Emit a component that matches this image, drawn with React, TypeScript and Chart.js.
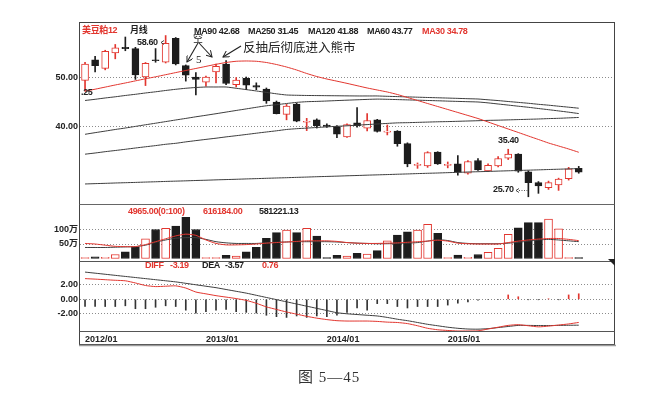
import React, { useEffect, useRef } from "react";
import { Chart, registerables } from "chart.js";

Chart.register(...registerables);

const months = [
  "2012/01", "2012/02", "2012/03", "2012/04", "2012/05", "2012/06", "2012/07", "2012/08", "2012/09", "2012/10", "2012/11", "2012/12",
  "2013/01", "2013/02", "2013/03", "2013/04", "2013/05", "2013/06", "2013/07", "2013/08", "2013/09", "2013/10", "2013/11", "2013/12",
  "2014/01", "2014/02", "2014/03", "2014/04", "2014/05", "2014/06", "2014/07", "2014/08", "2014/09", "2014/10", "2014/11", "2014/12",
  "2015/01", "2015/02", "2015/03", "2015/04", "2015/05", "2015/06", "2015/07", "2015/08", "2015/09", "2015/10", "2015/11", "2015/12",
  "2016/01", "2016/02", "2016/03", "2016/04", "2016/05",
];
const xTickIdx = [0, 12, 24, 36];

const openP = [
  49.44, 53.64, 51.89, 55.03, 56.22, 55.94, 50.14, 53.6, 53.15, 58.04,
  52.45, 50.14, 49.09, 51.19, 52.8, 48.6, 49.86, 48.39, 47.69, 45.03,
  42.52, 44.62, 40.9, 41.4, 40.35, 40.0, 37.9, 40.8, 39.72, 41.4,
  38.9, 39.1, 36.55, 32.1, 32.0, 34.8, 32.1, 32.4, 30.5, 33.1,
  31.0, 32.0, 33.6, 34.4, 30.8, 28.6, 27.55, 28.1, 29.4, 31.5,
];
const highP = [
  53.15, 54.34, 55.6, 56.78, 58.3, 56.2, 53.1, 55.94, 58.6, 58.2,
  52.6, 51.05, 50.35, 52.8, 53.5, 50.0, 50.14, 48.95, 47.9, 45.24,
  44.55, 44.8, 41.7, 41.6, 40.56, 40.21, 40.56, 43.92, 42.66, 41.5,
  40.35, 39.2, 36.71, 32.6, 34.9, 34.9, 32.8, 34.1, 33.1, 33.5,
  32.4, 33.9, 35.4, 34.5, 31.0, 28.8, 28.9, 29.5, 31.7, 31.9,
];
const lowP = [
  47.25, 51.19, 51.6, 53.85, 55.5, 49.65, 48.39, 53.15, 53.0, 52.6,
  49.3, 46.5, 48.25, 48.95, 48.6, 48.11, 47.55, 47.55, 44.76, 42.6,
  41.4, 41.0, 39.2, 39.72, 39.86, 37.76, 37.8, 39.9, 39.16, 38.9,
  38.32, 36.01, 31.82, 31.5, 31.7, 32.3, 31.6, 30.1, 30.3, 31.1,
  30.8, 31.8, 33.3, 30.7, 25.7, 26.4, 27.2, 27.0, 29.1, 30.5,
];
const closeP = [
  52.8, 52.45, 55.38, 56.08, 55.94, 50.56, 52.94, 53.45, 56.99, 52.8,
  50.49, 49.65, 50.14, 52.31, 48.81, 49.51, 48.46, 48.04, 45.24, 42.66,
  44.2, 41.12, 41.05, 40.21, 40.07, 38.46, 40.42, 40.2, 41.26, 39.02,
  39.02, 36.55, 32.4, 32.25, 34.7, 32.4, 32.2, 30.7, 32.9, 31.2,
  32.1, 33.5, 34.4, 30.9, 28.6, 27.9, 28.6, 29.3, 31.4, 30.7,
];

const ma30 = [
  47.24, 47.65, 48.08, 48.51, 48.92, 49.35, 49.78, 50.18, 50.61, 51.04,
  51.47, 51.88, 52.31, 52.73, 53.1, 53.35, 53.41, 53.35, 53.1, 52.69,
  52.18, 51.57, 50.86, 50.24, 49.73, 49.29, 48.84, 48.37, 47.9, 47.49,
  47.08, 46.57, 45.96, 45.35, 44.73, 44.12, 43.51, 42.9, 42.29, 41.67,
  40.96, 40.24, 39.53, 38.82, 38.1, 37.39, 36.67, 36.06, 35.45, 34.78,
];
const ma60 = [
  45.35, 45.59, 45.86, 46.1, 46.37, 46.61, 46.88, 47.12, 47.39, 47.63,
  47.84, 48.0, 48.1, 48.1, 48.1, 47.84, 47.57, 47.29, 47.0, 46.71,
  46.47, 46.41, 46.37, 46.35, 46.33, 46.31, 46.29, 46.27, 46.27, 46.27,
  46.2, 46.14, 46.08, 46.02, 45.96, 45.9, 45.84, 45.78, 45.71, 45.65,
  45.49, 45.33, 45.14, 44.96, 44.78, 44.57, 44.39, 44.18, 43.98, 43.77,
];
const ma90 = [
  38.45, 38.78, 39.1, 39.43, 39.73, 40.06, 40.39, 40.71, 41.04, 41.37,
  41.69, 42.02, 42.33, 42.65, 42.98, 43.31, 43.63, 43.96, 44.27, 44.49,
  44.73, 44.96, 45.1, 45.16, 45.24, 45.33, 45.41, 45.49, 45.57, 45.63,
  45.59, 45.53, 45.47, 45.41, 45.35, 45.29, 45.22, 45.16, 45.1, 45.04,
  44.86, 44.63, 44.41, 44.18, 43.96, 43.71, 43.47, 43.22, 42.96, 42.68,
];
const ma120 = [
  34.39, 34.63, 34.9, 35.14, 35.39, 35.65, 35.9, 36.14, 36.41, 36.61,
  36.9, 37.16, 37.41, 37.65, 37.92, 38.16, 38.41, 38.67, 38.92, 39.16,
  39.43, 39.59, 39.71, 39.84, 39.96, 40.08, 40.18, 40.31, 40.43, 40.55,
  40.67, 40.78, 40.82, 40.88, 40.94, 41.0, 41.04, 41.1, 41.16, 41.22,
  41.29, 41.33, 41.39, 41.45, 41.51, 41.57, 41.65, 41.71, 41.8, 41.88,
];
const ma250 = [
  28.31, 28.38, 28.44, 28.51, 28.57, 28.63, 28.7, 28.76, 28.83, 28.89,
  28.95, 29.02, 29.08, 29.15, 29.21, 29.27, 29.34, 29.4, 29.47, 29.53,
  29.59, 29.66, 29.72, 29.79, 29.85, 29.91, 29.98, 30.04, 30.11, 30.17,
  30.23, 30.3, 30.36, 30.43, 30.49, 30.55, 30.62, 30.68, 30.75, 30.81,
  30.87, 30.94, 31.0, 31.07, 31.13, 31.19, 31.26, 31.32, 31.39, 31.45,
];

// volume in 万
const volume = [
  2, 6, 4, 14, 23, 38.5, 68, 100, 104, 112,
  142, 100, 2, 3, 11, 8.6, 23, 38.5, 69.5, 89,
  98, 89, 104, 77.6, 1, 11, 8.6, 18, 15.5, 27,
  61, 81, 92, 98, 118, 87, 1, 12, 4, 14,
  21, 35, 83, 106, 124, 124, 136, 102, 1, 0.5,
];
const volMaRed = [
  52, 50, 46, 42, 41, 41, 48, 58, 68, 78,
  84, 80, 64, 52, 47, 47, 48, 50, 53, 55,
  57, 59, 61, 61, 61, 59, 55, 53, 52, 52,
  53, 54, 56, 58, 60, 63, 60, 53, 51, 50,
  50, 50, 55, 60, 64, 67, 69, 69, 66, 61.6,
];
const volMaBlack = [
  38, 38, 38, 39, 40, 41, 46, 56, 64, 70,
  72, 72, 66, 58, 54, 52, 52, 52, 54, 56,
  57, 58, 58, 58, 58, 57, 55, 53, 52, 51,
  51, 52, 53, 55, 60, 65, 62, 55, 52, 51,
  51, 51, 53, 56, 60, 64, 66, 64, 61, 58.1,
];

const diff = [
  2.85, 2.78, 2.7, 2.62, 2.55, 2.25, 1.9, 1.75, 1.8, 1.85,
  1.55, 1.0, 0.75, 0.5, 0.3, 0.1, -0.15, -0.55, -1.05, -1.4,
  -1.75, -2.05, -2.35, -2.6, -2.8, -2.95, -3.0, -3.0, -3.0, -3.05,
  -3.15, -3.2, -3.35, -3.65, -4.0, -4.2, -4.3, -4.37, -4.37, -4.35,
  -4.1, -3.85, -3.6, -3.5, -3.65, -3.8, -3.7, -3.55, -3.4, -3.19,
];
const dea = [
  3.75, 3.6, 3.45, 3.3, 3.15, 3.0, 2.85, 2.7, 2.55, 2.4,
  2.2, 2.0, 1.8, 1.6, 1.35, 1.1, 0.85, 0.55, 0.25, -0.05,
  -0.35, -0.65, -0.95, -1.25, -1.55, -1.85, -2.0, -2.1, -2.2, -2.3,
  -2.5, -2.75, -2.95, -3.2, -3.45, -3.65, -3.85, -4.0, -4.1, -4.12,
  -4.05, -3.9, -3.75, -3.6, -3.6, -3.62, -3.62, -3.6, -3.58, -3.57,
];
const macdHist = [
  -1.0, -1.0, -1.0, -1.0, -0.9, -1.3, -1.3, -1.1, -0.9, -1.0,
  -1.5, -1.9, -1.7, -1.5, -1.4, -1.7, -1.8, -1.9, -2.2, -2.4,
  -2.5, -2.3, -2.5, -2.3, -2.4, -2.2, -1.8, -1.2, -1.5, -0.6,
  -0.6, -1.0, -1.2, -1.0, -1.0, -1.0, -0.8, -0.55, -0.35, -0.12,
  -0.06, -0.06, 0.6, 0.35, -0.06, -0.05, 0.05, -0.05, 0.6, 0.76,
];

const priceTicks = [50, 40];
const volTicks = [100, 50];
const macdTicks = [2, 0, -2];

const RED = "#e2362f";
const DARK = "#1d1d1d";
const LINE = "#3d3d3d";
const GRID = "#8c8c8c";
const SMALLF = "'Liberation Sans', 'Noto Sans CJK SC', sans-serif";
const tickFont = { family: SMALLF, size: 9, weight: "bold" };

function noPad(s: any) {
  s.paddingTop = 0;
  s.paddingBottom = 0;
  s.paddingLeft = 0;
  s.paddingRight = 0;
}

function fixedY(min: number, max: number, ticks: number[], fmt: (v: number) => string) {
  return {
    min,
    max,
    afterFit: (s: any) => {
      s.width = 80;
      noPad(s);
    },
    afterBuildTicks: (s: any) => {
      s.ticks = ticks.map((v) => ({ value: v }));
    },
    ticks: {
      callback: (v: any) => fmt(Number(v)),
      font: tickFont,
      color: "#222",
      padding: 2,
      autoSkip: false,
    },
    grid: { drawTicks: false, color: GRID, lineWidth: 1 },
    border: { display: false, dash: [1, 2] },
  };
}

function lineDs(data: number[], color: string) {
  return {
    type: "line",
    data,
    borderColor: color,
    borderWidth: 1,
    pointRadius: 0,
    tension: 0.2,
    fill: false,
  };
}

function Txt(props: {
  x: number;
  y: number;
  t: string;
  c?: string;
  s?: number;
  w?: number;
  f?: string;
  ls?: string;
}) {
  const s = props.s || 9;
  return (
    <div
      style={{
        position: "absolute",
        left: props.x,
        top: props.y - s * 0.62,
        fontSize: s,
        lineHeight: `${Math.round(s * 1.24)}px`,
        color: props.c || "#222",
        whiteSpace: "nowrap",
        fontFamily: props.f || SMALLF,
        fontWeight: props.w === undefined ? 700 : props.w,
        letterSpacing: props.ls === undefined ? "-0.35px" : props.ls,
      }}
    >
      {props.t}
    </div>
  );
}

export default function App() {
  const mainRef = useRef<HTMLCanvasElement>(null);
  const volRef = useRef<HTMLCanvasElement>(null);
  const macdRef = useRef<HTMLCanvasElement>(null);

  useEffect(() => {
    const up = openP.map((o, i) => closeP[i] >= o);
    const bodyBg = up.map((u) => (u ? "#ffffff" : DARK));
    const candleCol = up.map((u) => (u ? RED : DARK));
    const bodies = openP.map((o, i) => [Math.min(o, closeP[i]), Math.max(o, closeP[i])]);
    const wicks = lowP.map((l, i) => [l, highP[i]]);
    const histCol = macdHist.map((v) => (v >= 0 ? RED : "#333333"));

    const base: any = {
      responsive: false,
      animation: false,
      events: [],
      plugins: { legend: { display: false }, tooltip: { enabled: false } },
    };
    const xHidden: any = {
      type: "category",
      offset: true,
      display: false,
      grid: { display: false },
    };

    const main = new Chart(mainRef.current as HTMLCanvasElement, {
      type: "bar",
      data: {
        labels: months,
        datasets: [
          lineDs(ma30, RED),
          lineDs(ma60, LINE),
          lineDs(ma90, LINE),
          lineDs(ma120, LINE),
          lineDs(ma250, LINE),
          {
            type: "bar",
            data: bodies,
            backgroundColor: bodyBg,
            borderColor: candleCol,
            borderWidth: 1,
            borderSkipped: false,
            barThickness: 7,
            grouped: false,
            minBarLength: 1,
          },
          {
            type: "bar",
            data: wicks,
            backgroundColor: candleCol,
            borderWidth: 0,
            barThickness: 1,
            grouped: false,
          },
        ] as any,
      },
      options: {
        ...base,
        layout: { padding: { top: 23, right: 47, left: 0, bottom: 0 } },
        scales: {
          x: xHidden,
          y: fixedY(24.02, 61.16, priceTicks, (v) => v.toFixed(2)),
        },
      },
    });

    const vol = new Chart(volRef.current as HTMLCanvasElement, {
      type: "bar",
      data: {
        labels: months,
        datasets: [
          lineDs(volMaRed, RED),
          lineDs(volMaBlack, LINE),
          {
            type: "bar",
            data: volume,
            backgroundColor: bodyBg,
            borderColor: candleCol,
            borderWidth: 1,
            borderSkipped: false,
            barThickness: 8,
            grouped: false,
            minBarLength: 1,
          },
        ] as any,
      },
      options: {
        ...base,
        layout: { padding: { top: 0, right: 47, left: 0, bottom: 0 } },
        scales: {
          x: xHidden,
          y: fixedY(-12, 184.5, volTicks, (v) => `${v}万`),
        },
      },
    });

    const macd = new Chart(macdRef.current as HTMLCanvasElement, {
      type: "bar",
      data: {
        labels: months,
        datasets: [
          lineDs(diff, RED),
          lineDs(dea, LINE),
          {
            type: "bar",
            data: macdHist,
            backgroundColor: histCol,
            borderWidth: 0,
            barThickness: 1,
            grouped: false,
          },
        ] as any,
      },
      options: {
        ...base,
        layout: { padding: { top: 0, right: 47, left: 0, bottom: 0 } },
        scales: {
          x: {
            type: "category",
            offset: true,
            grid: { display: false, drawTicks: false },
            border: { display: false },
            afterFit: (s: any) => {
              s.height = 13;
              noPad(s);
            },
            ticks: {
              autoSkip: false,
              maxRotation: 0,
              minRotation: 0,
              align: "start",
              padding: 2,
              font: tickFont,
              color: "#222",
              callback: (_v: any, i: number) => (xTickIdx.includes(i) ? months[i] : ""),
            },
          },
          y: fixedY(-4.51, 5.14, macdTicks, (v) => v.toFixed(2)),
        },
      } as any,
    });

    return () => {
      main.destroy();
      vol.destroy();
      macd.destroy();
    };
  }, []);

  return (
    <div
      style={{
        position: "absolute",
        left: 0,
        top: 0,
        width: 661,
        height: 402,
        background: "#ffffff",
        overflow: "hidden",
      }}
    >
      <canvas ref={mainRef} width={661} height={205} style={{ position: "absolute", left: 0, top: 0, width: 661, height: 205 }} />
      <canvas ref={volRef} width={661} height={57} style={{ position: "absolute", left: 0, top: 205, width: 661, height: 57 }} />
      <canvas ref={macdRef} width={661} height={83} style={{ position: "absolute", left: 0, top: 262, width: 661, height: 83 }} />

      <svg width={661} height={402} style={{ position: "absolute", left: 0, top: 0, pointerEvents: "none" }}>
        <defs>
          <marker id="ah" markerWidth="7" markerHeight="7" refX="6" refY="3.5" orient="auto" markerUnits="userSpaceOnUse">
            <path d="M0,0 L6,3.5 L0,7" fill="none" stroke="#222" strokeWidth="1" />
          </marker>
        </defs>
        <rect x={79.5} y={22.5} width={535} height={322} fill="none" stroke="#444" strokeWidth={1} />
        <line x1={79} y1={345.5} x2={616} y2={345.5} stroke="#9a9a9a" strokeWidth={1.5} />
        <line x1={79.5} y1={204.5} x2={614.5} y2={204.5} stroke="#666" strokeWidth={1.2} />
        <line x1={79.5} y1={261.5} x2={614.5} y2={261.5} stroke="#555" strokeWidth={1} />
        <line x1={79.5} y1={331.5} x2={614.5} y2={331.5} stroke="#555" strokeWidth={1} />
        <polygon points="608,259 615,259 615,266" fill="#222" />
        <line x1={198} y1={43} x2={187} y2={62} stroke="#222" strokeWidth={1.1} markerEnd="url(#ah)" />
        <line x1={199} y1={43} x2={212} y2={57} stroke="#222" strokeWidth={1.1} markerEnd="url(#ah)" />
        <line x1={241} y1={46} x2={223} y2={57} stroke="#222" strokeWidth={1.2} markerEnd="url(#ah)" />
        <path d="M164,40.5 L161,42.5 L164,44.5" fill="none" stroke="#333" strokeWidth={0.9} />
        <path d="M519,188.5 L516,190.5 L519,192.5" fill="none" stroke="#333" strokeWidth={0.9} />
        <line x1={519} y1={190.5} x2={529} y2={190.5} stroke="#555" strokeWidth={1} strokeDasharray="1 1.5" />
      </svg>

      <Txt x={82} y={31} t="美豆粕12" c={RED} />
      <Txt x={130} y={31} t="月线" />
      <Txt x={194} y={32} t="MA90 42.68" />
      <Txt x={248} y={32} t="MA250 31.45" />
      <Txt x={308} y={32} t="MA120 41.88" />
      <Txt x={367} y={32} t="MA60 43.77" />
      <Txt x={422} y={32} t="MA30 34.78" c={RED} />
      <Txt x={137} y={43} t="58.60" />
      <Txt x={193} y={38} t="空" s={10} w={400} ls="0px" f="'Noto Sans CJK SC', sans-serif" />
      <Txt x={196} y={59} t="5" s={11} w={400} ls="0px" f="'Liberation Serif', serif" />
      <Txt x={243} y={47} t="反抽后彻底进入熊市" s={12.5} w={400} ls="0px" f="'Noto Sans CJK SC', sans-serif" />
      <Txt x={81} y={93} t=".25" />
      <Txt x={498} y={141} t="35.40" />
      <Txt x={493} y={190} t="25.70" />

      <Txt x={128} y={212} t="4965.00(0:100)" c={RED} />
      <Txt x={203} y={212} t="616184.00" c={RED} />
      <Txt x={259} y={212} t="581221.13" />

      <Txt x={145} y={266} t="DIFF" c={RED} />
      <Txt x={170} y={266} t="-3.19" c={RED} />
      <Txt x={202} y={266} t="DEA" />
      <Txt x={225} y={266} t="-3.57" />
      <Txt x={262} y={266} t="0.76" c={RED} />

      <Txt x={298} y={377} t="图 5—45" s={15} w={400} ls="1px" c="#333" f="'Liberation Serif', 'Noto Sans CJK SC', serif" />
    </div>
  );
}
